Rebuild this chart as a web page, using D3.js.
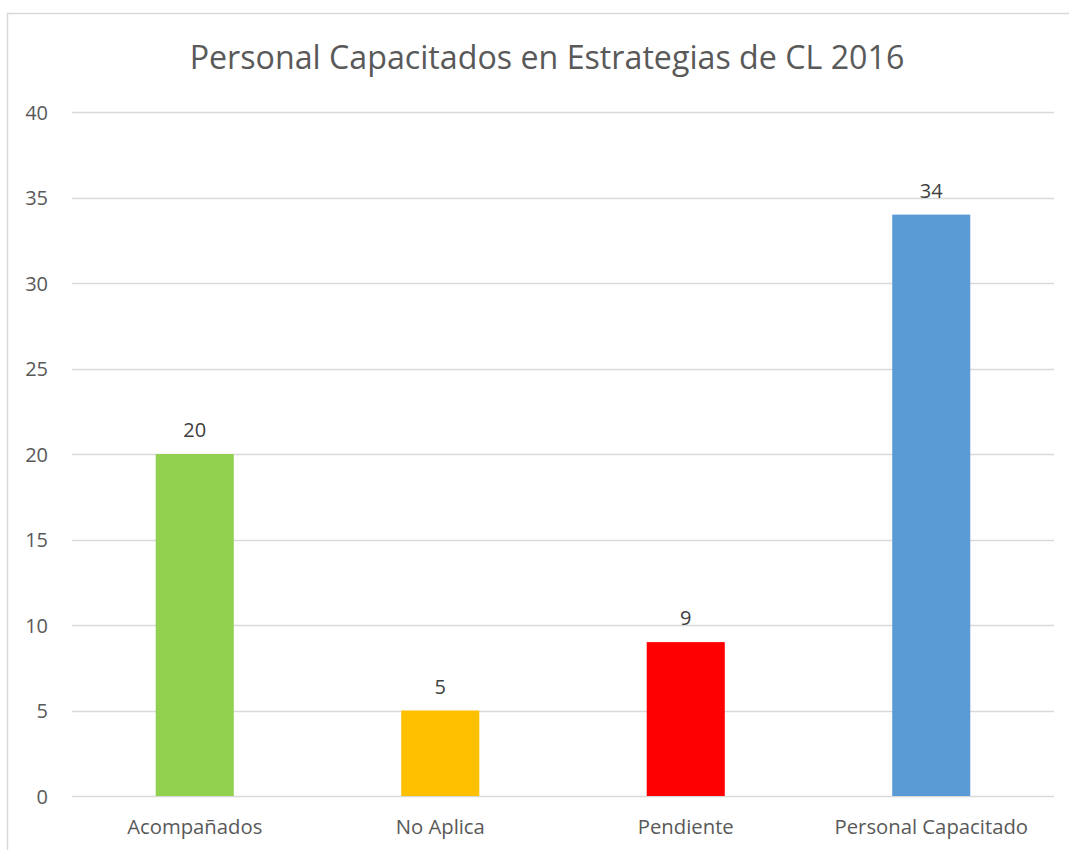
<!DOCTYPE html>
<html><head><meta charset="utf-8">
<script src="https://cdn.jsdelivr.net/npm/d3@7"></script>
<style>body{margin:0;background:#fff}svg{display:block}text{font-family:"Open Sans",sans-serif}</style>
</head><body><svg id="c" width="1069" height="850"></svg>
<script>
const title = "Personal Capacitados en Estrategias de CL 2016";
const categories = ["Acompañados","No Aplica","Pendiente","Personal Capacitado"];
const values = [20,5,9,34];
const colors = ["#92D050","#FFC000","#FF0000","#5B9BD5"];
const yTicks = [0,5,10,15,20,25,30,35,40];

const svg = d3.select("#c");
svg.append("rect").attr("x",7.5).attr("y",13.5).attr("width",1100).attr("height",900)
  .attr("fill","none").attr("stroke","#d9d9d9").attr("stroke-width",1.5);

const x = d3.scaleBand().domain(categories).range([72,1054]).paddingInner(0.682).paddingOuter(0.341);
const y = d3.scaleLinear().domain([0,40]).range([796,112]);

svg.append("g").selectAll("line").data(yTicks).join("line")
  .attr("x1",72).attr("x2",1054).attr("y1",d=>Math.round(y(d))+0.5).attr("y2",d=>Math.round(y(d))+0.5)
  .attr("stroke","#d9d9d9").attr("stroke-width",1.3);

const yAxis = svg.append("g").attr("transform","translate(48,0)")
  .call(d3.axisLeft(y).tickValues(yTicks).tickSize(0).tickPadding(0));
yAxis.select(".domain").remove();
yAxis.selectAll("text").attr("fill","#595959").style("font-size","20px").attr("dy","0.35em");

svg.append("g").selectAll("rect").data(values).join("rect")
  .attr("x",(d,i)=>x(categories[i])).attr("width",x.bandwidth())
  .attr("y",d=>y(d)).attr("height",d=>y(0)-y(d)).attr("fill",(d,i)=>colors[i]);

svg.append("g").selectAll("text").data(values).join("text")
  .attr("x",(d,i)=>x(categories[i])+x.bandwidth()/2).attr("y",d=>y(d)-17)
  .attr("text-anchor","middle").attr("fill","#404040").style("font-size","20px").text(d=>d);

const xAxis = svg.append("g").attr("transform","translate(0,796)")
  .call(d3.axisBottom(x).tickSize(0).tickPadding(0));
xAxis.select(".domain").remove();
xAxis.selectAll("text").attr("fill","#595959").style("font-size","20.3px").attr("dy","0").attr("y",38);

svg.append("text").attr("x",547).attr("y",69).attr("text-anchor","middle")
  .attr("fill","#595959").style("font-size","32.2px").text(title);
</script></body></html>
